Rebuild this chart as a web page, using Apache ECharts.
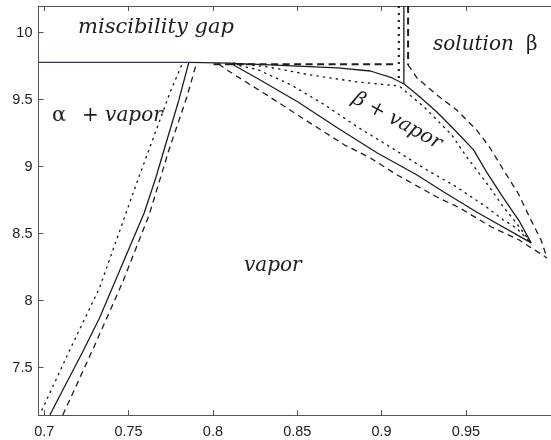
<!DOCTYPE html>
<html>
<head>
<meta charset="utf-8">
<script src="https://cdn.jsdelivr.net/npm/echarts@6/dist/echarts.min.js"></script>
<style>
  html, body { margin: 0; padding: 0; background: #fff; overflow: hidden; }
  #chart { width: 551px; height: 440px; }
</style>
</head>
<body>
<div id="chart"></div>
<script>
// Axis ranges and tick positions
const xRange = [0.6966, 1.00042];
const yRange = [7.147, 10.199];
const xTicks = [0.7, 0.75, 0.8, 0.85, 0.9, 0.95];
const yTicks = [7.5, 8, 8.5, 9, 9.5, 10];

// Three-phase line (miscibility gap temperature)
const gapLine = [[0.6966, 9.778], [0.7857, 9.778]];
const gapLineSolid = [[0.7857, 9.778], [0.8111, 9.772]];

// alpha + vapor boundary
const alphaSolid = [[0.70335, 7.147], [0.7110, 7.333], [0.72276, 7.617], [0.73276, 7.871], [0.74159, 8.132], [0.75041, 8.393], [0.75924, 8.654], [0.76629, 8.923], [0.77276, 9.199], [0.77982, 9.498], [0.78571, 9.778]];
const alphaDotted = [[0.69865, 7.184], [0.71512, 7.632], [0.73276, 8.095], [0.75335, 8.827], [0.77512, 9.572], [0.78218, 9.778]];
const alphaDashed = [[0.7110, 7.147], [0.72865, 7.632], [0.74629, 8.132], [0.76218, 8.640], [0.77394, 9.125], [0.78453, 9.520], [0.79041, 9.778]];

// beta + vapor boundaries, solid
const betaSolidUpper = [[0.81112, 9.770], [0.8270, 9.763], [0.85041, 9.751], [0.87394, 9.737], [0.89335, 9.714], [0.90629, 9.662], [0.91335, 9.617], [0.92276, 9.520], [0.93276, 9.408], [0.94335, 9.274], [0.95453, 9.125], [0.96218, 8.961], [0.97100, 8.789], [0.97865, 8.647], [0.98159, 8.595], [0.98865, 8.431]];
const betaSolidLower = [[0.81112, 9.766], [0.8270, 9.654], [0.85041, 9.483], [0.87394, 9.289], [0.89747, 9.102], [0.92100, 8.938], [0.93688, 8.811], [0.95629, 8.662], [0.98865, 8.431]];
const solidWall = [[0.9132, 10.199], [0.9132, 9.617]];

// beta + vapor boundaries, dotted
const betaDottedUpper = [[0.81218, 9.774], [0.83276, 9.744], [0.85806, 9.684], [0.88571, 9.632], [0.91041, 9.602], [0.92512, 9.446], [0.94159, 9.237], [0.95041, 9.073], [0.96218, 8.879], [0.97218, 8.700], [0.97982, 8.580], [0.98865, 8.431]];
const betaDottedLower = [[0.81218, 9.766], [0.8270, 9.722], [0.84641, 9.610], [0.86641, 9.460], [0.88571, 9.296], [0.90512, 9.147], [0.92688, 8.975], [0.94453, 8.848], [0.96218, 8.699], [0.97218, 8.602], [0.97982, 8.543], [0.98865, 8.431]];
const dottedWall = [[0.9102, 10.199], [0.9102, 9.624]];

// beta + vapor boundaries, dashed
const dashedShelf = [[0.8004, 9.764], [0.9092, 9.764]];
const dashedWall = [[0.9157, 10.199], [0.9157, 9.759]];
const betaDashedUpper = [[0.9157, 9.759], [0.9210, 9.662], [0.93276, 9.535], [0.94453, 9.423], [0.95629, 9.274], [0.96394, 9.147], [0.97218, 8.976], [0.98100, 8.800], [0.98900, 8.590], [0.99453, 8.453], [0.99806, 8.319]];
const betaDashedLower = [[0.80335, 9.766], [0.80924, 9.714], [0.83276, 9.528], [0.85747, 9.327], [0.87806, 9.162], [0.89335, 9.065], [0.90924, 8.938], [0.93276, 8.774], [0.94629, 8.692], [0.96512, 8.550], [0.98159, 8.453], [0.99806, 8.319]];

const INK = '#1e1e1e';
const SOLID = { color: INK, width: 1.3, type: 'solid' };
const DOTTED = { color: INK, width: 1.4, type: [1.3, 5.2], cap: 'round' };
const DASHED = { color: INK, width: 1.3, type: [6, 4.5] };

// every curve lies inside the axis ranges, so no clipping is needed
function curve(data, style) {
  return {
    type: 'line', data: data, showSymbol: false, symbol: 'none',
    lineStyle: style, silent: true, animation: false, clip: false,
    z: 3
  };
}

const tickFmt = v => String(parseFloat(Number(v).toFixed(2)));
const axisColor = '#555';
const labelFont = { fontFamily: 'Liberation Sans, Arial, sans-serif', fontSize: 14.5, color: '#222' };

const serif = 'DejaVu Serif, serif';

const chart = echarts.init(document.getElementById('chart'), null, { renderer: 'canvas' });
chart.setOption({
  animation: false,
  backgroundColor: '#fff',
  grid: { left: 38.5, right: -4, top: 6, bottom: 25 },
  xAxis: [
    {
      type: 'value', min: xRange[0], max: xRange[1], position: 'bottom',
      axisLine: { show: true, lineStyle: { color: axisColor, width: 1 } },
      axisTick: { show: true, inside: true, length: 5, customValues: xTicks, lineStyle: { color: axisColor } },
      axisLabel: Object.assign({ show: true, margin: 9, customValues: xTicks, formatter: tickFmt }, labelFont),
      splitLine: { show: false }
    },
    {
      type: 'value', min: xRange[0], max: xRange[1], position: 'top',
      axisLine: { show: true, lineStyle: { color: axisColor, width: 1 } },
      axisTick: { show: true, inside: true, length: 5, customValues: xTicks, lineStyle: { color: axisColor } },
      axisLabel: { show: false },
      splitLine: { show: false }
    }
  ],
  yAxis: {
    type: 'value', min: yRange[0], max: yRange[1],
    axisLine: { show: true, lineStyle: { color: axisColor, width: 1 } },
    axisTick: { show: true, inside: true, length: 5, customValues: yTicks, lineStyle: { color: axisColor } },
    axisLabel: Object.assign({ show: true, margin: 6, customValues: yTicks, formatter: tickFmt }, labelFont),
    splitLine: { show: false }
  },
  series: [
    curve(gapLine, { color: '#2c3566', width: 1.4, type: 'solid' }),
    curve(gapLineSolid, SOLID),
    curve(alphaSolid, SOLID),
    curve(alphaDotted, DOTTED),
    curve(alphaDashed, DASHED),
    curve(betaSolidUpper, SOLID),
    curve(betaSolidLower, SOLID),
    curve(solidWall, SOLID),
    curve(betaDottedUpper, DOTTED),
    curve(betaDottedLower, DOTTED),
    curve(dottedWall, { color: INK, width: 2.2, type: [2, 5], cap: 'butt' }),
    curve(dashedShelf, { color: INK, width: 2, type: [7, 4.5] }),
    curve(dashedWall, { color: INK, width: 2, type: [7, 4.5] }),
    curve(betaDashedUpper, DASHED),
    curve(betaDashedLower, DASHED)
  ],
  graphic: [
    { type: 'text', x: 78, y: 38, style: { text: 'miscibility gap', font: 'italic 21px ' + serif, fill: INK, align: 'left', verticalAlign: 'bottom' } },
    { type: 'text', x: 433, y: 55, style: { text: 'solution', font: 'italic 20px ' + serif, fill: INK, align: 'left', verticalAlign: 'bottom' } },
    { type: 'text', x: 526, y: 55, style: { text: 'β', font: '20px ' + serif, fill: INK, align: 'left', verticalAlign: 'bottom' } },
    { type: 'text', x: 52, y: 126, style: { text: 'α', font: '21px ' + serif, fill: INK, align: 'left', verticalAlign: 'bottom' } },
    { type: 'text', x: 82, y: 126, style: { text: '+ vapor', font: 'italic 20px ' + serif, fill: INK, align: 'left', verticalAlign: 'bottom' } },
    { type: 'text', x: 244, y: 276, style: { text: 'vapor', font: 'italic 20px ' + serif, fill: INK, align: 'left', verticalAlign: 'bottom' } },
    { type: 'text', x: 397, y: 121, rotation: -0.5, style: { text: 'β + vapor', font: 'italic 20px ' + serif, fill: INK, align: 'center', verticalAlign: 'middle' } }
  ]
});
</script>
</body>
</html>
